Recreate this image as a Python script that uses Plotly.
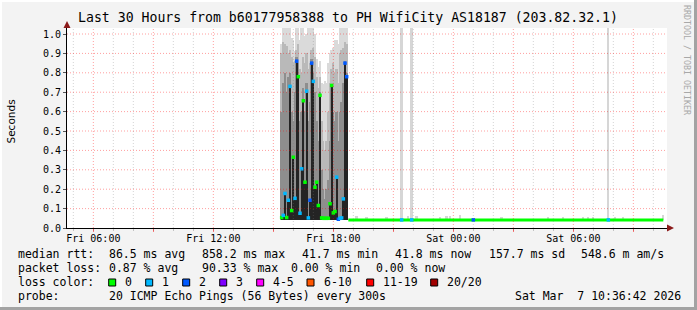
import plotly.graph_objects as go
import pandas as pd

# ---------------- data ----------------
title_text = "Last 30 Hours from b60177958388 to PH WifiCity AS18187 (203.82.32.1)"
x_start = "2026-03-06 04:41"
x_end = "2026-03-07 10:41"

# burst period, one value per 5-minute step starting at burst_start
burst_start = "2026-03-06 15:25"
burst_median = [0.054, 0.065, 0.178, 0.054, 0.143, 0.730, 0.090, 0.365, 0.153, 0.860,
                0.780, 0.076, 0.305, 0.656, 0.236, 0.705, 0.052, 0.143, 0.850, 0.756,
                0.210, 0.236, 0.116, 0.684, 0.052, 0.050, 0.050, 0.050, 0.050, 0.125,
                0.735, 0.078, 0.085, 0.262, 0.045, 0.050, 0.052, 0.150, 0.850, 0.780]
burst_loss = [0, 1, 1, 0, 1, 1, 0, 0, 1, 2,
              0, 1, 1, 0, 0, 1, 1, 2, 2, 1,
              0, 0, 0, 0, 0, 0, 0, 0, 0, 0,
              0, 0, 0, 1, 2, 1, 1, 1, 2, 2]
burst_smoke_max = [0.95, 1.03, 1.03, 1.03, 1.03, 1.03, 0.98, 0.97, 0.91, 1.03,
                   1.03, 0.97, 1.03, 1.03, 0.99, 1.00, 1.03, 1.03, 1.03, 1.03,
                   1.00, 0.87, 0.83, 0.86, 0.75, 0.74, 0.76, 0.75, 0.85, 0.90,
                   0.92, 0.93, 0.97, 0.97, 0.95, 1.03, 1.03, 1.03, 1.03, 1.03]
burst_smoke_upper = [0.90, 0.96, 0.95, 0.94, 0.90, 0.92, 0.88, 0.85, 0.86, 0.92,
                     0.95, 0.82, 0.80, 0.88, 0.85, 0.90, 0.82, 0.85, 0.92, 0.93,
                     0.88, 0.78, 0.72, 0.78, 0.55, 0.45, 0.40, 0.45, 0.60, 0.75,
                     0.82, 0.85, 0.80, 0.82, 0.75, 0.90, 0.92, 0.93, 0.96, 0.95]
burst_smoke_mid = [0.60, 0.75, 0.80, 0.70, 0.78, 0.80, 0.60, 0.55, 0.70, 0.88,
                   0.85, 0.55, 0.60, 0.72, 0.60, 0.75, 0.55, 0.65, 0.87, 0.80,
                   0.70, 0.55, 0.45, 0.70, 0.30, 0.20, 0.15, 0.20, 0.25, 0.45,
                   0.74, 0.60, 0.55, 0.60, 0.45, 0.60, 0.65, 0.75, 0.86, 0.80]
smoke_floor = 0.042

# quiet period
flat_start = "2026-03-06 18:45"
flat_end = "2026-03-07 10:30"
flat_median = 0.0418
flat_loss_times = ["2026-03-06 21:25", "2026-03-06 21:55", "2026-03-07 01:00", "2026-03-07 07:45"]
flat_loss_counts = [1, 1, 2, 1]
flat_loss_smoke_max = [1.03, 1.03, 0.050, 1.03]
bump_times = ["2026-03-06 19:10", "2026-03-06 19:40", "2026-03-06 20:40", "2026-03-06 21:45",
              "2026-03-06 22:10", "2026-03-06 23:20", "2026-03-06 23:40", "2026-03-06 23:50",
              "2026-03-07 00:20", "2026-03-07 02:25", "2026-03-07 04:45", "2026-03-07 05:30",
              "2026-03-07 06:30", "2026-03-07 06:45", "2026-03-07 07:00", "2026-03-07 08:05",
              "2026-03-07 08:30", "2026-03-07 10:30"]
bump_tops = [0.061, 0.058, 0.058, 0.060, 0.063, 0.058, 0.060, 0.062, 0.066, 0.056,
             0.058, 0.058, 0.056, 0.056, 0.058, 0.055, 0.055, 0.066]

loss_labels = ["0", "1", "2", "3", "4-5", "6-10", "11-19", "20/20"]
loss_colors = ["#00ff00", "#00b8ff", "#0059ff", "#7e00ff", "#ff00ff", "#ff5500", "#ff0000", "#a10000"]

y_ticks = [0.0, 0.1, 0.2, 0.3, 0.4, 0.5, 0.6, 0.7, 0.8, 0.9, 1.0]

stats_rtt = ["median rtt:", "86.5 ms avg", "858.2 ms max", "41.7 ms min", "41.8 ms now", "157.7 ms sd", "548.6 m am/s"]
stats_loss = ["packet loss:", "0.87 % avg", "90.33 % max", "0.00 % min", "0.00 % now"]
probe_text = ["probe:", "20 ICMP Echo Pings (56 Bytes) every 300s", "Sat Mar\u00a0\u00a07 10:36:42 2026"]

# ---------------- layout helpers (pixel -> paper) ----------------
W, H = 697, 310
L, R, T, B = 67, 30, 28, 82
PW, PH = W - L - R, H - T - B


def px(x):
    return (x - L) / PW


def py(y):
    return (H - B - y) / PH


STEP = 300000  # 5 minutes in ms

burst_t = pd.date_range(burst_start, periods=len(burst_median), freq="5min")

fig = go.Figure()


def smoke(x, tops, color, width=STEP):
    fig.add_trace(go.Bar(x=x, y=[t - smoke_floor for t in tops], base=smoke_floor,
                         width=width, marker=dict(color=color, line=dict(width=0)),
                         hoverinfo="skip"))


smoke(burst_t, burst_smoke_max, "#dadada")
smoke(burst_t, burst_smoke_upper, "#b9b9b9")
smoke(burst_t, burst_smoke_mid, "#8e8e8e")
smoke(burst_t, burst_median, "#242424", width=STEP * 0.8)
smoke(pd.to_datetime(flat_loss_times), flat_loss_smoke_max, "#d6d6d6")
smoke(pd.to_datetime(bump_times), bump_tops, "#d6d6d6")

# quiet-period median line
fig.add_trace(go.Scatter(x=[flat_start, flat_end], y=[flat_median, flat_median], mode="lines",
                         line=dict(color=loss_colors[0], width=3), hoverinfo="skip"))
# loss-coloured medians
fig.add_trace(go.Scatter(x=burst_t, y=burst_median, mode="markers",
                         marker=dict(symbol="square", size=3.5,
                                     color=[loss_colors[c] for c in burst_loss], line=dict(width=0)),
                         hoverinfo="skip"))
fig.add_trace(go.Scatter(x=pd.to_datetime(flat_loss_times), y=[flat_median] * len(flat_loss_times),
                         mode="markers",
                         marker=dict(symbol="square", size=3.5,
                                     color=[loss_colors[c] for c in flat_loss_counts], line=dict(width=0)),
                         hoverinfo="skip"))

major = pd.date_range("2026-03-06 06:00", "2026-03-07 09:00", freq="3h")
major_text = [t.strftime("%a %H:%M") if t.hour % 6 == 0 else "" for t in major]

shapes = []
# grid above the data, like rrdtool
for t in pd.date_range("2026-03-06 05:00", "2026-03-07 10:00", freq="1h"):
    red = t.hour % 3 == 0
    shapes.append(dict(type="line", xref="x", yref="paper", x0=t, x1=t, y0=0, y1=1, layer="above",
                       line=dict(color="rgba(255,0,0,0.38)" if red else "rgba(120,120,120,0.32)",
                                 width=1, dash="1px,2px")))
for v in y_ticks[1:]:
    shapes.append(dict(type="line", xref="paper", yref="y", x0=0, x1=1, y0=v, y1=v, layer="above",
                       line=dict(color="rgba(255,0,0,0.38)", width=1, dash="1px,2px")))
# axis arrows
shapes.append(dict(type="path", xref="paper", yref="paper", layer="above",
                   path=f"M {px(63.5)},{py(28)} L {px(70.5)},{py(28)} L {px(67)},{py(21)} Z",
                   fillcolor="#8b1a1a", line=dict(width=0)))
shapes.append(dict(type="path", xref="paper", yref="paper", layer="above",
                   path=f"M {px(667)},{py(224.5)} L {px(667)},{py(231.5)} L {px(674)},{py(228)} Z",
                   fillcolor="#8b1a1a", line=dict(width=0)))
# frame
shapes.append(dict(type="rect", xref="paper", yref="paper", layer="above",
                   x0=px(694), x1=px(697), y0=py(310), y1=py(0), fillcolor="#a3a3a3", line=dict(width=0)))
shapes.append(dict(type="rect", xref="paper", yref="paper", layer="above",
                   x0=px(0), x1=px(697), y0=py(310), y1=py(307), fillcolor="#a3a3a3", line=dict(width=0)))
shapes.append(dict(type="rect", xref="paper", yref="paper", layer="above",
                   x0=px(0), x1=px(694), y0=py(2), y1=py(0), fillcolor="#ffffff", line=dict(width=0)))
shapes.append(dict(type="rect", xref="paper", yref="paper", layer="above",
                   x0=px(0), x1=px(2), y0=py(307), y1=py(0), fillcolor="#ffffff", line=dict(width=0)))

MONO = "DejaVu Sans Mono"
ann = []


def text(s, x, y, size=11.5, color="#000000", xanchor="left", angle=0, family=MONO):
    ann.append(dict(text=s, xref="paper", yref="paper", x=px(x), y=py(y), xanchor=xanchor,
                    yanchor="middle", showarrow=False, textangle=angle,
                    font=dict(family=family, size=size, color=color)))


text(title_text, 347.5, 18, size=13.2, xanchor="center")
text("Seconds", 10.5, 122, size=10.5, xanchor="center", angle=-90, family="DejaVu Sans")
text("RRDTOOL / TOBI OETIKER", 687, 60, size=8.3, color="#a8a8a8", xanchor="center", angle=90)

rtt_x = [16, 107, 200, 300, 393, 487, 579]
for s, x in zip(stats_rtt, rtt_x):
    text(s, x, 254.3)
loss_x = [16, 107, 200, 289, 374]
for s, x in zip(stats_loss, loss_x):
    text(s, x, 268.3)
text("loss color:", 16, 282.3)
sq_x = [108.7, 145.7, 182.7, 219.7, 256.7, 307, 366.7, 430.7]
for lab, col, x in zip(loss_labels, loss_colors, sq_x):
    shapes.append(dict(type="rect", xref="paper", yref="paper", layer="above",
                       x0=px(x), x1=px(x + 7), y0=py(286), y1=py(279),
                       fillcolor=col, line=dict(color="#000000", width=1)))
    text(lab, x + 14.6, 282.3)
probe_x = [16, 107, 513.3]
for s, x in zip(probe_text, probe_x):
    text(s, x, 296)

fig.update_layout(
    width=W, height=H, margin=dict(l=L, r=R, t=T, b=B, pad=0),
    paper_bgcolor="#f3f3f3", plot_bgcolor="#ffffff",
    showlegend=False, barmode="overlay", bargap=0,
    font=dict(family=MONO, size=10, color="#000000"),
    shapes=shapes, annotations=ann,
    xaxis=dict(type="date", range=[x_start, x_end], tickmode="array", tickvals=major,
               ticktext=major_text, showgrid=False, zeroline=False,
               ticks="outside", ticklen=3, tickcolor="rgba(255,0,0,0.5)",
               showline=True, linecolor="#000000", linewidth=1, ticklabelstandoff=-2,
               tickfont=dict(family=MONO, size=10),
               minor=dict(ticks="outside", ticklen=2, tickcolor="rgba(120,120,120,0.4)",
                          dtick=3600000, tick0="2026-03-06 00:00", showgrid=False)),
    yaxis=dict(range=[0, 1.031], tickmode="array", tickvals=y_ticks,
               ticktext=[f"{v:.1f}" for v in y_ticks], showgrid=False, zeroline=False,
               ticks="outside", ticklen=3, tickcolor="#555555",
               showline=True, linecolor="#000000", linewidth=1,
               tickfont=dict(family=MONO, size=10)),
)

fig.write_html("out.html")
